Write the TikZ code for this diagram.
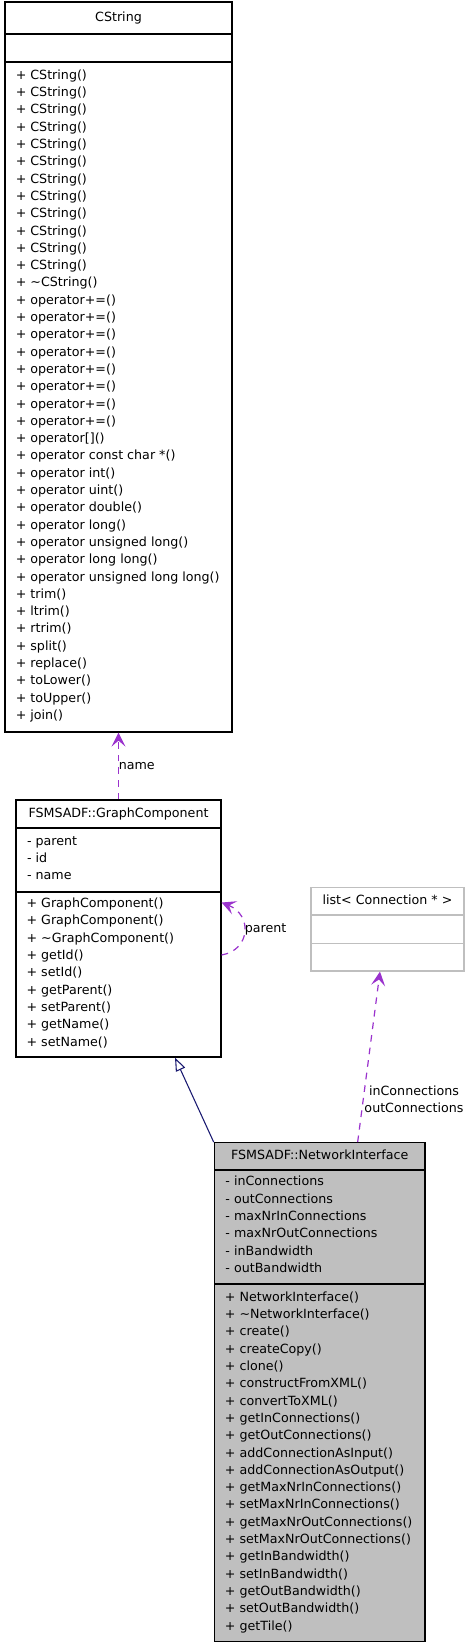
\documentclass[tikz,border=0pt]{standalone}
\usepackage{fontspec}
\setmainfont{DejaVu Sans}
\usetikzlibrary{arrows.meta,calc,fit}
\definecolor{usecol}{HTML}{9A32CD}
\definecolor{inhcol}{HTML}{191970}
\definecolor{greybox}{HTML}{BFBFBF}

\begin{document}
\begin{tikzpicture}[x=0.75pt,y=-0.75pt,
  font=\fontsize{9.5}{13}\selectfont,
  classbox/.style={draw=black, line width=0.9pt, inner sep=0pt},
  divider/.style={line width=0.9pt},
  member/.style={anchor=west, inner sep=0pt, text height=7.2pt, text depth=1.8pt},
  classname/.style={inner sep=0pt, text height=7.2pt, text depth=1.8pt},
  usage/.style={draw=usecol, line width=0.9pt, dash pattern=on 5pt off 4.5pt,
    -{Stealth[length=10.5pt,width=10.5pt,inset=4.5pt]}},
  inherit/.style={draw=inhcol, line width=0.8pt, -{Triangle[open,length=10pt,width=7.5pt]}},
  edgelabel/.style={inner sep=0pt, align=center}]
\useasboundingbox (0,0) rectangle (471,1648);

% CString
\node[classbox, fit={(5,2) (232,732)}] (cstring) {};
\draw[divider] (5,34) -- (232,34) (5,62) -- (232,62);
\node[classname] (cstitle) at (118.5,18) {CString};
\foreach \m [count=\i from 0] in {CString(),CString(),CString(),CString(),CString(),CString(),
  CString(),CString(),CString(),CString(),CString(),CString(),\textasciitilde CString(),
  operator+=(),operator+=(),operator+=(),operator+=(),operator+=(),operator+=(),
  operator+=(),operator+=(),operator[](),operator const char *(),operator int(),
  operator uint(),operator double(),operator long(),operator unsigned long(),
  operator long long(),operator unsigned long long(),trim(),ltrim(),rtrim(),split(),
  replace(),toLower(),toUpper(),join()}
  \node[member] (csm\i) at (15.5,75.7+17.3*\i) {+ \m};

% GraphComponent
\node[classbox, fit={(16,800) (221,1057)}] (gcomp) {};
\draw[divider] (16,828) -- (221,828) (16,892) -- (221,892);
\node[classname] (gctitle) at (118.5,814) {FSMSADF::GraphComponent};
\foreach \a [count=\i from 0] in {parent,id,name}
  \node[member] (gca\i) at (26.8,841.7+17.3*\i) {- \a};
\foreach \m [count=\i from 0] in {GraphComponent(),GraphComponent(),\textasciitilde GraphComponent(),
  getId(),setId(),getParent(),setParent(),getName(),setName()}
  \node[member] (gcm\i) at (26.3,904+17.3*\i) {+ \m};

% list< Connection * >
\node[classbox, draw=greybox, fit={(311,887.3) (464,971)}] (conlist) {};
\draw[divider, greybox] (311,915) -- (464,915) (311,943.3) -- (464,943.3);
\node[classname] (cltitle) at (387.5,901) {list< Connection * >};

% NetworkInterface
\node[classbox, fill=greybox, fit={(214.3,1142.7) (425,1641.7)}] (ni) {};
\draw[divider] (214.3,1170) -- (425,1170) (214.3,1284) -- (425,1284);
\node[classname] (nititle) at (319.7,1155.5) {FSMSADF::NetworkInterface};
\foreach \a [count=\i from 0] in {inConnections,outConnections,maxNrInConnections,
  maxNrOutConnections,inBandwidth,outBandwidth}
  \node[member] (nia\i) at (225.2,1182.3+17.3*\i) {- \a};
\foreach \m [count=\i from 0] in {NetworkInterface(),\textasciitilde NetworkInterface(),create(),
  createCopy(),clone(),constructFromXML(),convertToXML(),getInConnections(),
  getOutConnections(),addConnectionAsInput(),addConnectionAsOutput(),
  getMaxNrInConnections(),setMaxNrInConnections(),getMaxNrOutConnections(),
  setMaxNrOutConnections(),getInBandwidth(),setInBandwidth(),getOutBandwidth(),
  setOutBandwidth(),getTile()}
  \node[member] (nim\i) at (224.7,1297.7+17.3*\i) {+ \m};

% relations
\draw[usage] (gcomp.north) -- (cstring.south);
\node[edgelabel, anchor=west] (namelbl) at (118.5,766) {name};
\draw[usage] ($(gcomp.east)+(0,26.5)$) .. controls ($(gcomp.east)+(29,21.5)$)
  and ($(gcomp.east)+(31,-13.5)$) .. ($(gcomp.east)+(0,-26)$);
\node[edgelabel, anchor=west] (parentlbl) at (244.5,929) {parent};
\draw[inherit] (ni.north west) -- ($(gcomp.south)+(56.5,0)$);
\draw[usage] ($(ni.north)+(38,0)$) -- ($(conlist.south)+(-7.5,0)$);
\node[edgelabel] (connlbl) at (414,1099) {inConnections\\outConnections};
\end{tikzpicture}
\end{document}
